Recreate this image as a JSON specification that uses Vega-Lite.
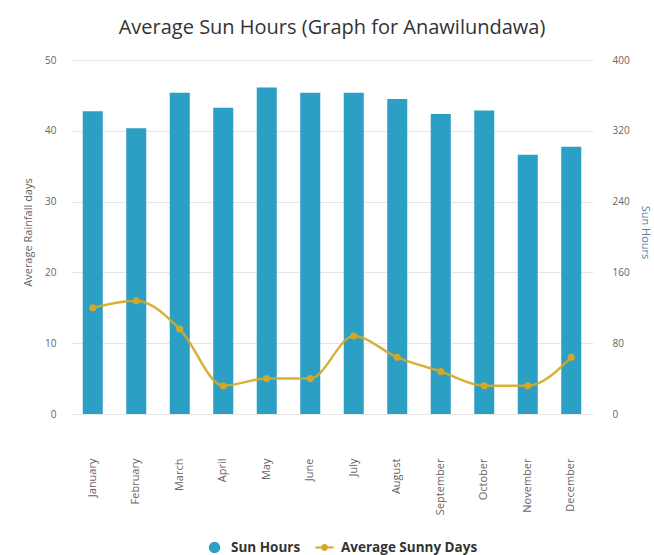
{
  "$schema": "https://vega.github.io/schema/vega-lite/v6.json",
  "autosize": "none",
  "width": 522,
  "height": 354,
  "padding": {"left": 71, "top": 60, "right": 61, "bottom": 141},
  "background": "#ffffff",
  "config": {
    "font": "Open Sans",
    "view": {"stroke": null}
  },
  "title": {
    "text": "Average Sun Hours (Graph for Anawilundawa)",
    "fontSize": 20,
    "fontWeight": "normal",
    "color": "#333333",
    "anchor": "middle",
    "offset": 17
  },
  "data": {
    "values": [
      {"month": "January", "sun": 342, "days": 15},
      {"month": "February", "sun": 323, "days": 16},
      {"month": "March", "sun": 363, "days": 12},
      {"month": "April", "sun": 346, "days": 4},
      {"month": "May", "sun": 369, "days": 5},
      {"month": "June", "sun": 363, "days": 5},
      {"month": "July", "sun": 363, "days": 11},
      {"month": "August", "sun": 356, "days": 8},
      {"month": "September", "sun": 339, "days": 6},
      {"month": "October", "sun": 343, "days": 4},
      {"month": "November", "sun": 293, "days": 4},
      {"month": "December", "sun": 302, "days": 8}
    ]
  },
  "encoding": {
    "x": {
      "field": "month",
      "type": "nominal",
      "sort": null,
      "scale": {"paddingInner": 0.54, "paddingOuter": 0.27},
      "axis": {
        "title": null,
        "labelAngle": -90,
        "labelAlign": "right",
        "labelBaseline": "middle",
        "labelPadding": 44,
        "labelFontSize": 11,
        "labelColor": "#666666",
        "ticks": false,
        "domain": false,
        "grid": false
      }
    }
  },
  "layer": [
    {
      "mark": {"type": "bar", "color": "#2b9fc4"},
      "encoding": {
        "y": {
          "field": "sun",
          "type": "quantitative",
          "scale": {"domain": [0, 400], "nice": false},
          "axis": {
            "orient": "right",
            "title": "Sun Hours",
            "titleColor": "#4d7fa8",
            "titleFontSize": 11,
            "titleFontWeight": "normal",
            "titleAngle": 90,
            "titleBaseline": "middle",
            "titleAlign": "center",
            "titleX": 51,
            "titleY": 172,
            "values": [0, 80, 160, 240, 320, 400],
            "labelFontSize": 10,
            "labelColor": "#666666",
            "labelPadding": 19,
            "tickSize": 0,
            "ticks": false,
            "domain": false,
            "grid": false
          }
        },
        "color": {
          "datum": "Sun Hours",
          "type": "nominal",
          "scale": {"domain": ["Sun Hours", "Average Sunny Days"], "range": ["#2b9fc4", "#d4a826"]},
          "legend": {
            "title": null,
            "orient": "none",
            "direction": "horizontal",
            "legendX": 134,
            "legendY": 478,
            "labelFontSize": 13.5,
            "labelFontWeight": "bold",
            "labelColor": "#333333",
            "columnPadding": 14,
            "labelOffset": 7,
            "symbolType": "circle",
            "symbolSize": 130,
            "encode": {
              "symbols": {
                "update": {
                  "shape": {"signal": "datum.value === 'Sun Hours' ? 'circle' : 'M-1,-0.11H1V0.11H-1Z M0.38,0A0.38,0.38 0 1,1 -0.38,0A0.38,0.38 0 1,1 0.38,0Z'"},
                  "size": {"signal": "datum.value === 'Sun Hours' ? 130 : 330"},
                  "fill": {"signal": "datum.value === 'Sun Hours' ? '#2b9fc4' : '#d4a826'"},
                  "stroke": {"value": "transparent"},
                  "strokeWidth": {"value": 0},
                  "opacity": {"value": 1}
                }
              }
            }
          }
        }
      }
    },
    {
      "mark": {
        "type": "line",
        "interpolate": "monotone",
        "strokeWidth": 2.5,
        "opacity": 0.9,
        "point": {"filled": true, "size": 50, "opacity": 1}
      },
      "encoding": {
        "y": {
          "field": "days",
          "type": "quantitative",
          "scale": {"domain": [0, 50], "nice": false},
          "axis": {
            "orient": "left",
            "title": "Average Rainfall days",
            "titleColor": "#666666",
            "titleFontSize": 11,
            "titleFontWeight": "normal",
            "titleBaseline": "middle",
            "titleAlign": "center",
            "titleX": -43,
            "titleY": 172,
            "values": [0, 10, 20, 30, 40, 50],
            "labelFontSize": 10,
            "labelColor": "#666666",
            "labelPadding": 15,
            "tickSize": 0,
            "ticks": false,
            "domain": false,
            "grid": true,
            "gridColor": "#e6e6e6"
          }
        },
        "color": {"datum": "Average Sunny Days", "type": "nominal"}
      }
    }
  ],
  "resolve": {"scale": {"y": "independent"}}
}
